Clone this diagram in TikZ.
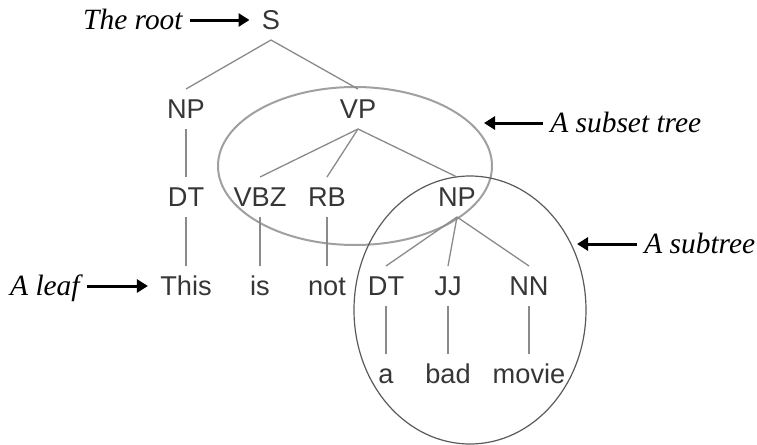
\documentclass[tikz,border=0pt]{standalone}
\usepackage{fontspec}
\setmainfont{Liberation Sans}
\newfontfamily\lblfont{Liberation Serif}
\usetikzlibrary{shapes.geometric,arrows.meta}
\definecolor{treetext}{HTML}{363636}
\definecolor{treeline}{HTML}{8A8A8A}
\definecolor{setline}{HTML}{A0A0A0}
\definecolor{subline}{HTML}{5A5A5A}
\tikzset{
  tnode/.style={text=treetext, font=\fontsize{13.6}{16}\selectfont,
    text height=9.6pt, text depth=0pt, inner ysep=5pt, inner xsep=6pt},
  lbl/.style={text=black, font=\lblfont\itshape\fontsize{14.7}{17}\selectfont,
    text height=9.7pt, text depth=0pt, inner ysep=0pt, inner xsep=3.5pt},
  edge/.style={draw=treeline, line width=0.65pt},
  pointer/.style={draw=black, line width=1.5pt,
    -{Triangle[length=5.5pt,width=6.5pt]}},
  region/.style={ellipse, draw, inner sep=0pt}
}
\begin{document}
\begin{tikzpicture}[x=0.5pt,y=-0.5pt]
\useasboundingbox (0,0) rectangle (757,445);

% circled regions
\node[region, draw=setline, line width=1pt, minimum width=137pt, minimum height=79pt]
  (subset) at (355,166) {};
\node[region, draw=subline, line width=0.6pt, minimum width=116pt, minimum height=134pt]
  (subtree) at (470,310) {};

% tree nodes
\node[tnode] (S)   at (271,20)  {S};
\node[tnode] (NPa) at (186,109) {NP};
\node[tnode] (VP)  at (358,109) {VP};
\node[tnode] (DTa) at (186,197) {DT};
\node[tnode] (VBZ) at (260,197) {VBZ};
\node[tnode] (RB)  at (327,197) {RB};
\node[tnode] (NPb) at (457,197) {NP};
\node[tnode] (This) at (186,286) {This};
\node[tnode] (is)   at (260,286) {is};
\node[tnode] (not)  at (327,286) {not};
\node[tnode] (DTb)  at (386,286) {DT};
\node[tnode] (JJ)   at (448,286) {JJ};
\node[tnode] (NN)   at (529,286) {NN};
\node[tnode] (a)     at (386,374) {a};
\node[tnode] (bad)   at (448,374) {bad};
\node[tnode] (movie) at (529,374) {movie};

% tree edges
\draw[edge] (S.south) -- (NPa.north);
\draw[edge] (S.south) -- (VP.north);
\draw[edge] (NPa.south) -- (DTa.north);
\draw[edge] (VP.south) -- (VBZ.north);
\draw[edge] (VP.south) -- (RB.north);
\draw[edge] (VP.south) -- (NPb.north);
\draw[edge] (DTa.south) -- (This.north);
\draw[edge] (VBZ.south) -- (is.north);
\draw[edge] (RB.south) -- (not.north);
\draw[edge] (NPb.south) -- (DTb.north);
\draw[edge] (NPb.south) -- (JJ.north);
\draw[edge] (NPb.south) -- (NN.north);
\draw[edge] (DTb.south) -- (a.north);
\draw[edge] (JJ.south) -- (bad.north);
\draw[edge] (NN.south) -- (movie.north);

% annotations
\node[lbl, anchor=east] (rootlbl) at (190,20) {The root};
\node[lbl, anchor=east] (leaflbl) at (87,286) {A leaf};
\node[lbl, anchor=west] (setlbl) at (543,123) {A subset tree};
\node[lbl, anchor=west] (sublbl) at (637,244) {A subtree};
\coordinate (settip) at (484,123);
\coordinate (subtip) at (577,244);

\draw[pointer] (rootlbl.east) -- (S.west);
\draw[pointer] (leaflbl.east) -- (This.west);
\draw[pointer] (setlbl.west) -- (settip);
\draw[pointer] (sublbl.west) -- (subtip);
\end{tikzpicture}
\end{document}
